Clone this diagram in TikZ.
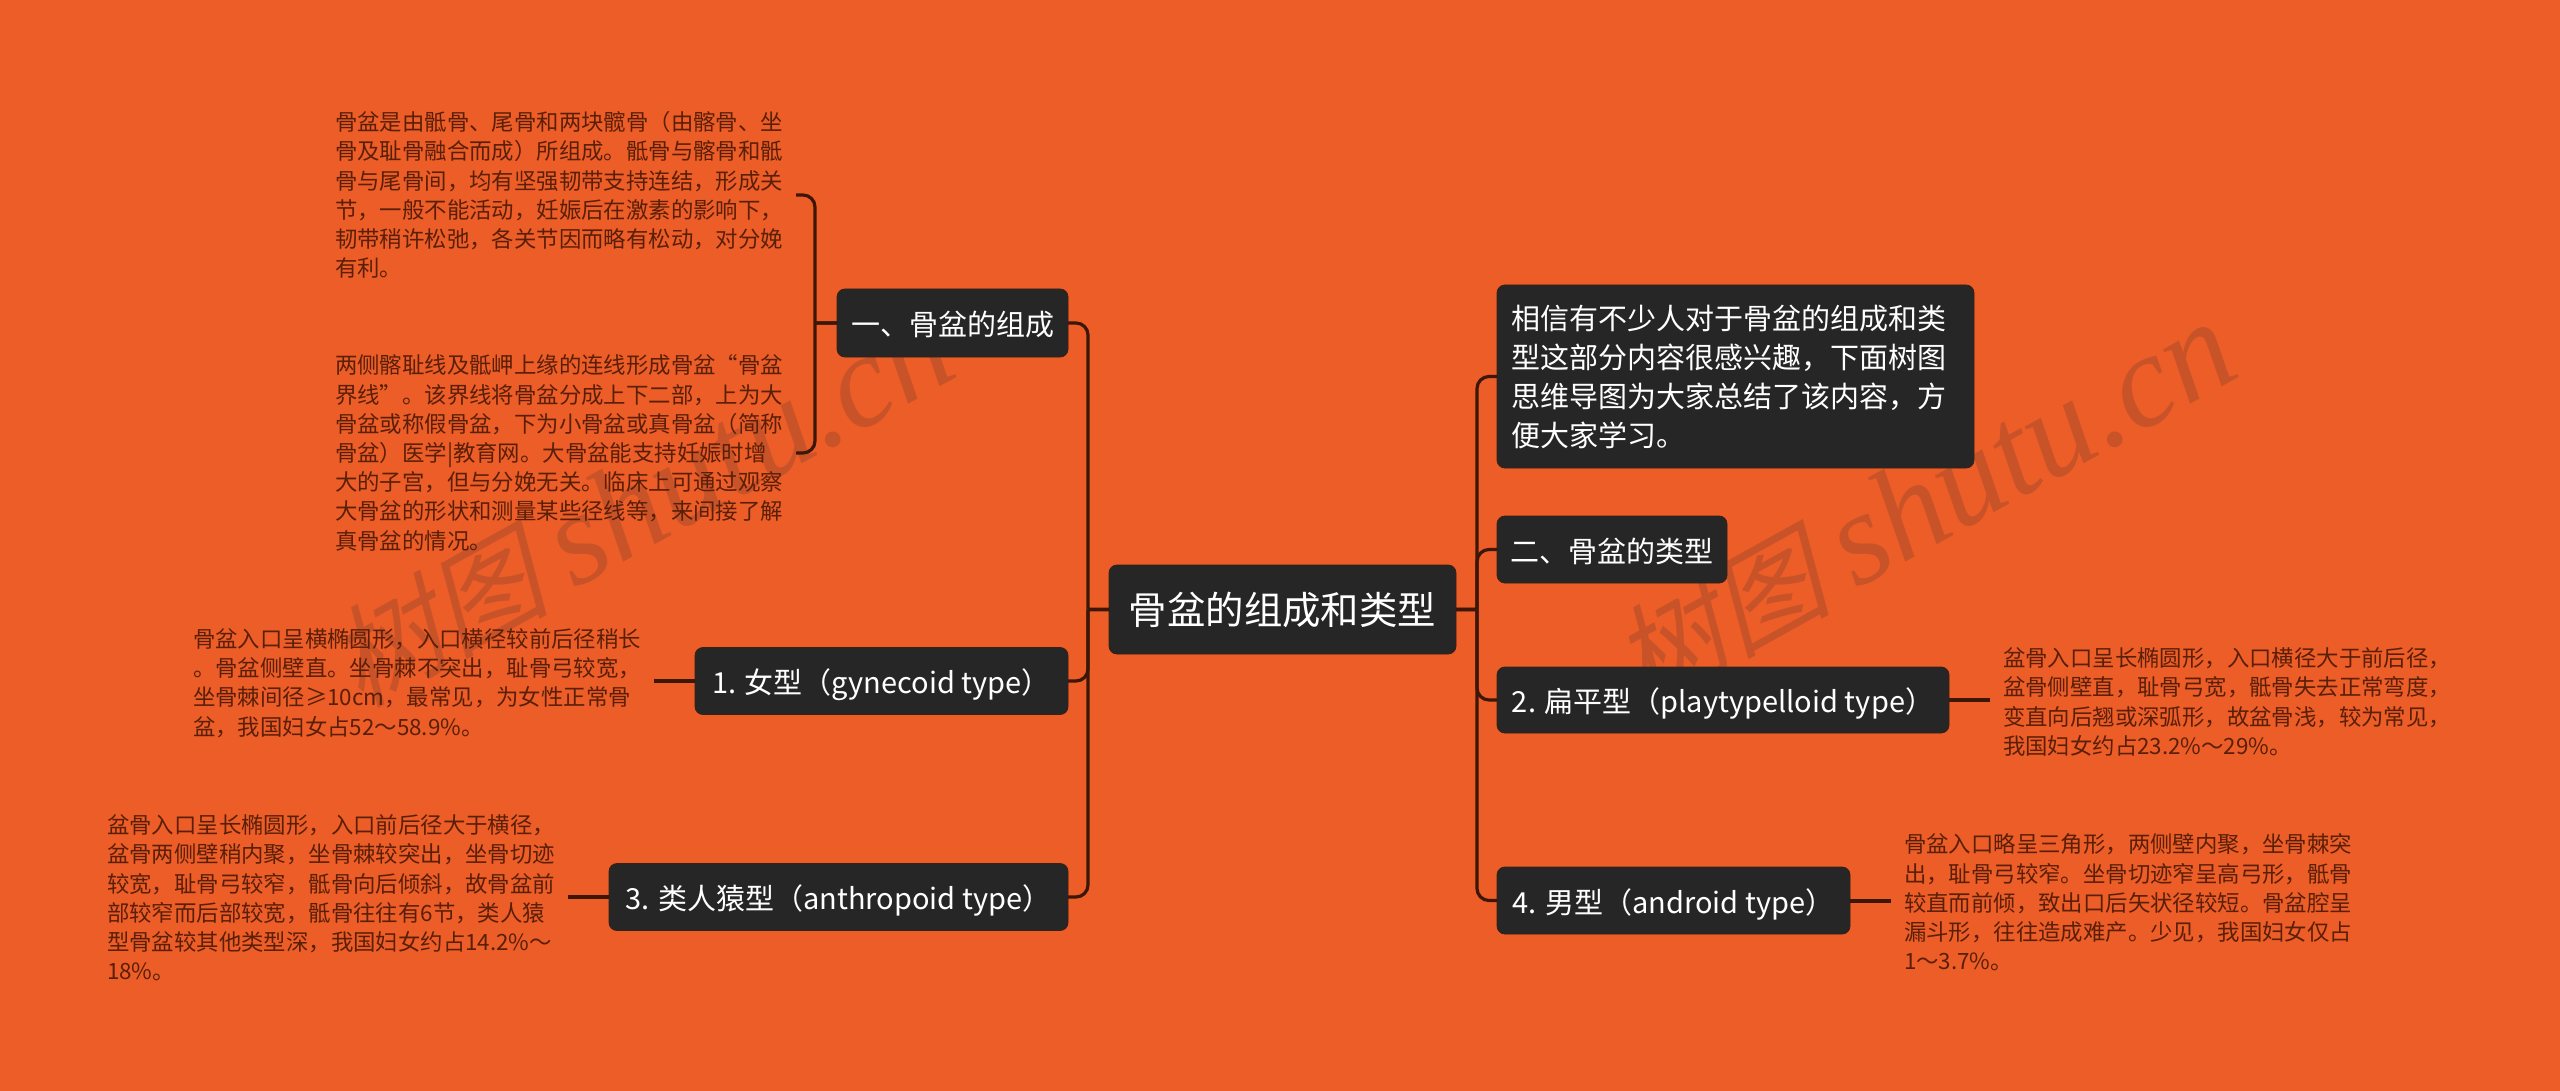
\documentclass[tikz,border=0pt]{standalone}
\usepackage{fontspec}
\usepackage{tikz}
\usetikzlibrary{positioning}
\setmainfont{Noto Sans CJK SC}
\newfontfamily\markcjk[FakeSlant=0.25]{Noto Sans CJK SC}
\newfontfamily\marklatin{Liberation Serif Italic}
\definecolor{pagebg}{HTML}{EC5D27}
\definecolor{boxfill}{HTML}{262626}
\definecolor{boxedge}{HTML}{3A2014}
\definecolor{linkdark}{HTML}{3C1708}
\definecolor{notetext}{HTML}{5A1F08}
\definecolor{markcol}{HTML}{C95329}
\begin{document}
\begin{tikzpicture}
[x=1pt, y=-1pt, node distance=41pt,
topicbox/.style={rectangle, rounded corners=8pt, fill=boxfill, draw=boxedge, line width=0.8pt,
  text=white, inner sep=0pt, outer sep=0pt, align=left,
  font=\fontsize{29}{39}\selectfont},
oneline/.style={text height=28pt, text depth=3pt},
notebox/.style={rectangle, text=notetext, inner xsep=13pt, inner ysep=0pt, outer sep=0pt,
  text width=448pt, align=left, font=\fontsize{22.4}{29.2}\selectfont},
markbox/.style={text=markcol, rotate=29, inner sep=0pt},
link/.style={draw=linkdark, line width=3.2pt, rounded corners=12pt},
leftbranch/.style={link, to path={(\tikztotarget.west) -- ++(-21pt,0pt) ++(0pt,0pt) |- (\tikztostart.east)}},
rightbranch/.style={link, to path={(\tikztotarget.east) -- ++(21pt,0pt) ++(0pt,0pt) |- (\tikztostart.west)}},
bracket/.style={link, to path={(\tikztotarget.west) -- ++(-22pt,0pt) ++(0pt,0pt) |- (\tikztostart.east)}},
leftstub/.style={draw=linkdark, line width=4pt, to path={(\tikztostart.east |- \tikztotarget.west) -- (\tikztotarget.west)}},
rightstub/.style={draw=linkdark, line width=4pt, to path={(\tikztostart.west |- \tikztotarget.east) -- (\tikztotarget.east)}}]
  \fill[pagebg] (0,0) rectangle (2560,1091);
  \node[markbox] (markleft) at (641,505) {\fontsize{110}{120}\selectfont\markcjk 树图 \fontsize{132}{120}\selectfont\marklatin shutu.cn};
  \node[markbox] (markright) at (1923,505) {\fontsize{110}{120}\selectfont\markcjk 树图 \fontsize{132}{120}\selectfont\marklatin shutu.cn};
  \node[topicbox, minimum width=347pt, minimum height=89pt, font=\fontsize{38.4}{46}\selectfont] (root) at (1282.5,609.5) {骨盆的组成和类型};
\node[topicbox, oneline, left=of root, yshift=286.5pt, minimum width=231pt, minimum height=68pt] (zucheng) {一、骨盆的组成} edge[leftbranch] (root);
\node[topicbox, oneline, left=of root, yshift=-71.5pt, minimum width=373pt, minimum height=67pt] (nvxing) {1. 女型（gynecoid type）} edge[leftbranch] (root);
\node[topicbox, oneline, left=of root, yshift=-287.5pt, minimum width=459pt, minimum height=67pt] (yuanxing) {3. 类人猿型（anthropoid type）} edge[leftbranch] (root);
\node[topicbox, right=of root, yshift=233pt, inner xsep=14pt, text width=449pt, minimum height=183pt] (intro) {相信有不少人对于骨盆的组成和类\\型这部分内容很感兴趣，下面树图\\思维导图为大家总结了该内容，方\\便大家学习。} edge[rightbranch] (root);
\node[topicbox, oneline, right=of root, yshift=60pt, minimum width=230pt, minimum height=67pt] (leixing) {二、骨盆的类型} edge[rightbranch] (root);
\node[topicbox, oneline, right=of root, yshift=-90.5pt, minimum width=452pt, minimum height=66pt] (bianping) {2. 扁平型（playtypelloid type）} edge[rightbranch] (root);
\node[topicbox, oneline, right=of root, yshift=-291pt, minimum width=353pt, minimum height=67pt] (nanxing) {4. 男型（android type）} edge[rightbranch] (root);
\node[notebox, left=of zucheng, yshift=128pt] (gugenote) {骨盆是由骶骨、尾骨和两块髋骨（由髂骨、坐\\骨及耻骨融合而成）所组成。骶骨与髂骨和骶\\骨与尾骨间，均有坚强韧带支持连结，形成关\\节，一般不能活动，妊娠后在激素的影响下，\\韧带稍许松弛，各关节因而略有松动，对分娩\\有利。} edge[bracket] (zucheng);
\node[notebox, left=of zucheng, yshift=-130pt] (jiexiannote) {两侧髂耻线及骶岬上缘的连线形成骨盆“骨盆\\界线”。该界线将骨盆分成上下二部，上为大\\骨盆或称假骨盆，下为小骨盆或真骨盆（简称\\骨盆）医学|教育网。大骨盆能支持妊娠时增\\大的子宫，但与分娩无关。临床上可通过观察\\大骨盆的形状和测量某些径线等，来间接了解\\真骨盆的情况。} edge[bracket] (zucheng);
\node[notebox, left=of nvxing, yshift=-2pt] (nvnote) {骨盆入口呈横椭圆形，入口横径较前后径稍长\\。骨盆侧壁直。坐骨棘不突出，耻骨弓较宽，\\坐骨棘间径≥10cm，最常见，为女性正常骨\\盆，我国妇女占52～58.9\%。} edge[leftstub] (nvxing);
\node[notebox, left=of yuanxing, yshift=-1pt] (yuannote) {盆骨入口呈长椭圆形，入口前后径大于横径，\\盆骨两侧壁稍内聚，坐骨棘较突出，坐骨切迹\\较宽，耻骨弓较窄，骶骨向后倾斜，故骨盆前\\部较窄而后部较宽，骶骨往往有6节，类人猿\\型骨盆较其他类型深，我国妇女约占14.2\%～\\18\%。} edge[leftstub] (yuanxing);
\node[notebox, right=of bianping, yshift=-2pt] (biannote) {盆骨入口呈长椭圆形，入口横径大于前后径，\\盆骨侧壁直，耻骨弓宽，骶骨失去正常弯度，\\变直向后翘或深弧形，故盆骨浅，较为常见，\\我国妇女约占23.2\%～29\%。} edge[rightstub] (bianping);
\node[notebox, right=of nanxing, yshift=-2pt] (nannote) {骨盆入口略呈三角形，两侧壁内聚，坐骨棘突\\出，耻骨弓较窄。坐骨切迹窄呈高弓形，骶骨\\较直而前倾，致出口后矢状径较短。骨盆腔呈\\漏斗形，往往造成难产。少见，我国妇女仅占\\1～3.7\%。} edge[rightstub] (nanxing);
\end{tikzpicture}
\end{document}
